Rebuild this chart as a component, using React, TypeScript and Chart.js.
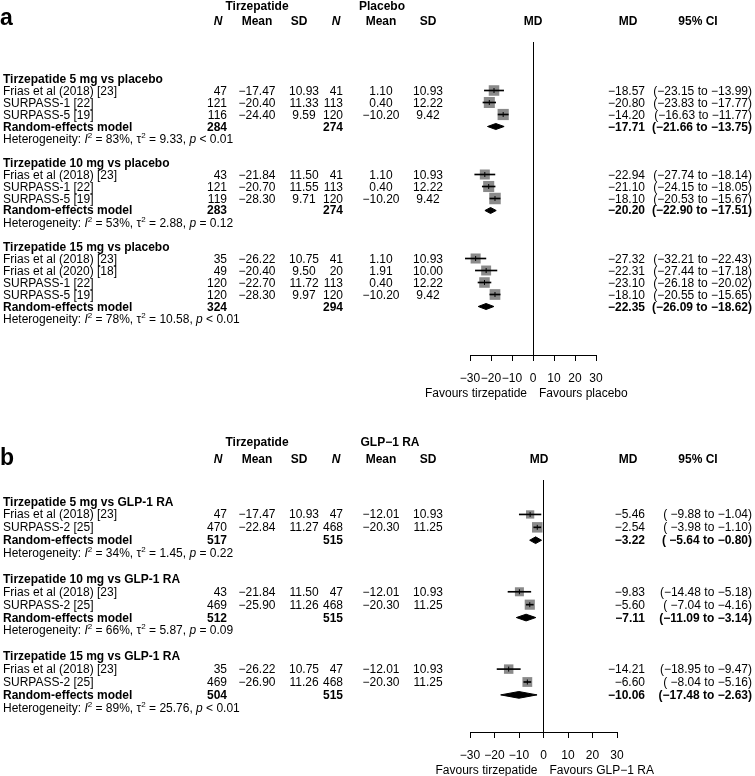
import React, { useEffect, useRef } from "react";
import { Chart, registerables } from "chart.js";

Chart.register(...registerables);

const FONT = '"Liberation Sans", Arial, Helvetica, sans-serif';
const MINUS = "\u2212";

// ---------------- Panel a: tirzepatide vs placebo ----------------
const aGroupTitles = [
  "Tirzepatide 5 mg vs placebo",
  "Tirzepatide 10 mg vs placebo",
  "Tirzepatide 15 mg vs placebo",
];
const aGroupSizes = [3, 3, 4];
const aStudyLabels = [
  "Frias et al (2018) [23]",
  "SURPASS-1 [22]",
  "SURPASS-5 [19]",
  "Frias et al (2018) [23]",
  "SURPASS-1 [22]",
  "SURPASS-5 [19]",
  "Frias et al (2018) [23]",
  "Frias et al (2020) [18]",
  "SURPASS-1 [22]",
  "SURPASS-5 [19]",
];
const aTirzN = [47, 121, 116, 43, 121, 119, 35, 49, 120, 120];
const aTirzMean = [-17.47, -20.4, -24.4, -21.84, -20.7, -28.3, -26.22, -20.4, -22.7, -28.3];
const aTirzSD = [10.93, 11.33, 9.59, 11.5, 11.55, 9.71, 10.75, 9.5, 11.72, 9.97];
const aCtrlN = [41, 113, 120, 41, 113, 120, 41, 20, 113, 120];
const aCtrlMean = [1.1, 0.4, -10.2, 1.1, 0.4, -10.2, 1.1, 1.91, 0.4, -10.2];
const aCtrlSD = [10.93, 12.22, 9.42, 10.93, 12.22, 9.42, 10.93, 10.0, 12.22, 9.42];
const aMD = [-18.57, -20.8, -14.2, -22.94, -21.1, -18.1, -27.32, -22.31, -23.1, -18.1];
const aLower = [-23.15, -23.83, -16.63, -27.74, -24.15, -20.53, -32.21, -27.44, -26.18, -20.55];
const aUpper = [-13.99, -17.77, -11.77, -18.14, -18.05, -15.67, -22.43, -17.18, -20.02, -15.65];
const aPoolTirzN = [284, 283, 324];
const aPoolCtrlN = [274, 274, 294];
const aPoolMD = [-17.71, -20.2, -22.35];
const aPoolLower = [-21.66, -22.9, -26.09];
const aPoolUpper = [-13.75, -17.51, -18.62];
const aHetI2 = [83, 53, 78];
const aHetTau2 = [9.33, 2.88, 10.58];
const aHetP = ["< 0.01", "= 0.12", "< 0.01"];
const aXTicks = [-30, -20, -10, 0, 10, 20, 30];

// ---------------- Panel b: tirzepatide vs GLP-1 RA ----------------
const bGroupTitles = [
  "Tirzepatide 5 mg vs GLP-1 RA",
  "Tirzepatide 10 mg vs GLP-1 RA",
  "Tirzepatide 15 mg vs GLP-1 RA",
];
const bGroupSizes = [2, 2, 2];
const bStudyLabels = [
  "Frias et al (2018) [23]",
  "SURPASS-2 [25]",
  "Frias et al (2018) [23]",
  "SURPASS-2 [25]",
  "Frias et al (2018) [23]",
  "SURPASS-2 [25]",
];
const bTirzN = [47, 470, 43, 469, 35, 469];
const bTirzMean = [-17.47, -22.84, -21.84, -25.9, -26.22, -26.9];
const bTirzSD = [10.93, 11.27, 11.5, 11.26, 10.75, 11.26];
const bCtrlN = [47, 468, 47, 468, 47, 468];
const bCtrlMean = [-12.01, -20.3, -12.01, -20.3, -12.01, -20.3];
const bCtrlSD = [10.93, 11.25, 10.93, 11.25, 10.93, 11.25];
const bMD = [-5.46, -2.54, -9.83, -5.6, -14.21, -6.6];
const bLower = [-9.88, -3.98, -14.48, -7.04, -18.95, -8.04];
const bUpper = [-1.04, -1.1, -5.18, -4.16, -9.47, -5.16];
const bPoolTirzN = [517, 512, 504];
const bPoolCtrlN = [515, 515, 515];
const bPoolMD = [-3.22, -7.11, -10.06];
const bPoolLower = [-5.64, -11.09, -17.48];
const bPoolUpper = [-0.8, -3.14, -2.63];
const bHetI2 = [34, 66, 89];
const bHetTau2 = [1.45, 5.87, 25.76];
const bHetP = ["= 0.22", "= 0.09", "< 0.01"];
const bXTicks = [-30, -20, -10, 0, 10, 20, 30];

type PanelData = {
  letter: string;
  ctrlName: string;
  favoursLeft: string;
  favoursRight: string;
  titles: string[];
  groupSizes: number[];
  labels: string[];
  tN: number[];
  tMean: number[];
  tSD: number[];
  cN: number[];
  cMean: number[];
  cSD: number[];
  md: number[];
  lower: number[];
  upper: number[];
  poolTN: number[];
  poolCN: number[];
  poolMD: number[];
  poolLower: number[];
  poolUpper: number[];
  i2: number[];
  tau2: number[];
  p: string[];
  ticks: number[];
};

const panelA: PanelData = {
  letter: "a",
  ctrlName: "Placebo",
  favoursLeft: "Favours tirzepatide",
  favoursRight: "Favours placebo",
  titles: aGroupTitles,
  groupSizes: aGroupSizes,
  labels: aStudyLabels,
  tN: aTirzN,
  tMean: aTirzMean,
  tSD: aTirzSD,
  cN: aCtrlN,
  cMean: aCtrlMean,
  cSD: aCtrlSD,
  md: aMD,
  lower: aLower,
  upper: aUpper,
  poolTN: aPoolTirzN,
  poolCN: aPoolCtrlN,
  poolMD: aPoolMD,
  poolLower: aPoolLower,
  poolUpper: aPoolUpper,
  i2: aHetI2,
  tau2: aHetTau2,
  p: aHetP,
  ticks: aXTicks,
};

const panelB: PanelData = {
  letter: "b",
  ctrlName: "GLP\u22121 RA",
  favoursLeft: "Favours tirzepatide",
  favoursRight: "Favours GLP\u22121 RA",
  titles: bGroupTitles,
  groupSizes: bGroupSizes,
  labels: bStudyLabels,
  tN: bTirzN,
  tMean: bTirzMean,
  tSD: bTirzSD,
  cN: bCtrlN,
  cMean: bCtrlMean,
  cSD: bCtrlSD,
  md: bMD,
  lower: bLower,
  upper: bUpper,
  poolTN: bPoolTirzN,
  poolCN: bPoolCtrlN,
  poolMD: bPoolMD,
  poolLower: bPoolLower,
  poolUpper: bPoolUpper,
  i2: bHetI2,
  tau2: bHetTau2,
  p: bHetP,
  ticks: bXTicks,
};

// ---------------- Layout (canvas-local pixels) ----------------
type Layout = {
  top: number;
  height: number;
  row0: number;
  step: number;
  plotTop: number;
  plotBottom: number;
  plotLeft: number;
  plotRight: number;
  letterBase: number;
  groupHeadBase: number;
  colHeadBase: number;
  favoursBase: number;
  ctrlHeadX: number;
  mdHeadX: number;
  squareMax: number;
  diamondHalf: number;
};

const layoutA: Layout = {
  top: 0,
  height: 410,
  row0: 48.5,
  step: 15,
  plotTop: 42,
  plotBottom: 355,
  plotLeft: 470,
  plotRight: 596,
  letterBase: 25,
  groupHeadBase: 10,
  colHeadBase: 24.5,
  favoursBase: 397,
  ctrlHeadX: 382,
  mdHeadX: 533,
  squareMax: 11.5,
  diamondHalf: 0.25,
};

const layoutB: Layout = {
  top: 410,
  height: 366,
  row0: 78.5,
  step: 14.5,
  plotTop: 70,
  plotBottom: 322,
  plotLeft: 470,
  plotRight: 617,
  letterBase: 55,
  groupHeadBase: 36,
  colHeadBase: 53,
  favoursBase: 364,
  ctrlHeadX: 390,
  mdHeadX: 539,
  squareMax: 10.5,
  diamondHalf: 0.26,
};

const COL = {
  label: 3,
  tN: 227,
  tNHead: 218,
  tMean: 257,
  tSD: 304,
  tSDHead: 299,
  cN: 343,
  cNHead: 336,
  cMean: 381,
  cSD: 428,
  md: 645,
  ci: 752,
  mdHead: 628,
  ciHead: 698,
};

const AXIS_H = 30;
const SIZE_EXP = 0.2;

function fmt(v: number, d = 2): string {
  const s = Math.abs(v).toFixed(d);
  return v < 0 ? MINUS + s : s;
}

function put(
  ctx: CanvasRenderingContext2D,
  s: string,
  x: number,
  y: number,
  align: CanvasTextAlign,
  style = "",
  size = 12
) {
  ctx.font = `${style}${size}px ${FONT}`;
  ctx.textAlign = align;
  ctx.textBaseline = "alphabetic";
  ctx.fillText(s, x, y);
}

function drawHet(
  ctx: CanvasRenderingContext2D,
  x: number,
  y: number,
  i2: number,
  tau2: number,
  p: string
) {
  let cx = x;
  const seg = (s: string, style = "", size = 12, dy = 0) => {
    ctx.font = `${style}${size}px ${FONT}`;
    ctx.textAlign = "left";
    ctx.textBaseline = "alphabetic";
    ctx.fillText(s, cx, y + dy);
    cx += ctx.measureText(s).width;
  };
  seg("Heterogeneity: ");
  seg("I", "italic ");
  seg("2", "", 8, -5);
  seg(` = ${i2}%, \u03C4`);
  seg("2", "", 8, -5);
  seg(` = ${tau2.toFixed(2)}, `);
  seg("p", "italic ");
  seg(` ${p}`);
}

function buildConfig(p: PanelData, L: Layout): any {
  const studyRows: number[] = [];
  const studyGroup: number[] = [];
  const titleRows: number[] = [];
  const poolRows: number[] = [];
  const hetRows: number[] = [];
  let r = 0;
  p.groupSizes.forEach((n, g) => {
    titleRows.push(r);
    for (let j = 0; j < n; j++) {
      studyRows.push(r + 1 + j);
      studyGroup.push(g);
    }
    poolRows.push(r + n + 1);
    hetRows.push(r + n + 2);
    r += n + 4;
  });

  // random-effects weights (inverse of within-study variance + tau^2)
  const w = p.md.map((_, i) => {
    const se = (p.upper[i] - p.lower[i]) / (2 * 1.959964);
    return 1 / (se * se + p.tau2[studyGroup[i]]);
  });
  const gsum = p.groupSizes.map((_, g) =>
    w.reduce((a, v, i) => (studyGroup[i] === g ? a + v : a), 0)
  );
  const pct = w.map((v, i) => v / gsum[studyGroup[i]]);
  const maxPct = Math.max(...pct);
  const radius = pct.map(
    (v) => (L.squareMax * Math.pow(v / maxPct, SIZE_EXP)) / (2 * Math.SQRT1_2)
  );

  const pts = p.md.map((m, i) => ({ x: m, y: studyRows[i] }));
  const ciData = p.lower.map((lo, i) => ({ x: [lo, p.upper[i]], y: studyRows[i] }));

  const diamonds = p.poolMD.map((m, g) => ({
    type: "line",
    label: "Random-effects " + g,
    data: [
      { x: p.poolLower[g], y: poolRows[g] },
      { x: m, y: poolRows[g] - L.diamondHalf },
      { x: p.poolUpper[g], y: poolRows[g] },
      { x: m, y: poolRows[g] + L.diamondHalf },
      { x: p.poolLower[g], y: poolRows[g] },
    ],
    borderColor: "#000",
    backgroundColor: "#000",
    borderWidth: 1,
    pointRadius: 0,
    tension: 0,
    fill: "shape",
    clip: false,
    order: 0,
  }));

  const yMin = (L.plotTop - L.row0) / L.step;
  const yMax = (L.plotBottom - L.row0) / L.step;

  const textPlugin = {
    id: "forestText",
    afterDraw(chart: any) {
      const ctx: CanvasRenderingContext2D = chart.ctx;
      const ys = chart.scales.y;
      const xs = chart.scales.x;
      const base = (k: number) => Math.round(ys.getPixelForValue(k) + 4);
      ctx.save();
      ctx.fillStyle = "#000";

      // panel letter
      put(ctx, p.letter, 0, L.letterBase, "left", "bold ", 23);

      // headers
      put(ctx, "Tirzepatide", COL.tMean, L.groupHeadBase, "center", "bold ");
      put(ctx, p.ctrlName, L.ctrlHeadX, L.groupHeadBase, "center", "bold ");
      put(ctx, "N", COL.tNHead, L.colHeadBase, "center", "italic bold ");
      put(ctx, "Mean", COL.tMean, L.colHeadBase, "center", "bold ");
      put(ctx, "SD", COL.tSDHead, L.colHeadBase, "center", "bold ");
      put(ctx, "N", COL.cNHead, L.colHeadBase, "center", "italic bold ");
      put(ctx, "Mean", COL.cMean, L.colHeadBase, "center", "bold ");
      put(ctx, "SD", COL.cSD, L.colHeadBase, "center", "bold ");
      put(ctx, "MD", L.mdHeadX, L.colHeadBase, "center", "bold ");
      put(ctx, "MD", COL.mdHead, L.colHeadBase, "center", "bold ");
      put(ctx, "95% CI", COL.ciHead, L.colHeadBase, "center", "bold ");

      const loW = Math.max(
        ...p.lower.map((v) => fmt(v).length),
        ...p.poolLower.map((v) => fmt(v).length)
      );
      const ciText = (lo: number, hi: number) =>
        `(${fmt(lo).padStart(loW, " ")} to ${fmt(hi)})`;

      p.titles.forEach((t, g) => {
        put(ctx, t, COL.label, base(titleRows[g]), "left", "bold ");
      });

      p.labels.forEach((lab, i) => {
        const y = base(studyRows[i]);
        put(ctx, lab, COL.label, y, "left");
        put(ctx, String(p.tN[i]), COL.tN, y, "right");
        put(ctx, fmt(p.tMean[i]), COL.tMean, y, "center");
        put(ctx, fmt(p.tSD[i]), COL.tSD, y, "center");
        put(ctx, String(p.cN[i]), COL.cN, y, "right");
        put(ctx, fmt(p.cMean[i]), COL.cMean, y, "center");
        put(ctx, fmt(p.cSD[i]), COL.cSD, y, "center");
        put(ctx, fmt(p.md[i]), COL.md, y, "right");
        put(ctx, ciText(p.lower[i], p.upper[i]), COL.ci, y, "right");
      });

      p.poolMD.forEach((m, g) => {
        const y = base(poolRows[g]);
        put(ctx, "Random-effects model", COL.label, y, "left", "bold ");
        put(ctx, String(p.poolTN[g]), COL.tN, y, "right", "bold ");
        put(ctx, String(p.poolCN[g]), COL.cN, y, "right", "bold ");
        put(ctx, fmt(m), COL.md, y, "right", "bold ");
        put(ctx, ciText(p.poolLower[g], p.poolUpper[g]), COL.ci, y, "right", "bold ");
        drawHet(ctx, COL.label, base(hetRows[g]), p.i2[g], p.tau2[g], p.p[g]);
      });

      const zx = xs.getPixelForValue(0);
      put(ctx, p.favoursLeft, zx - 6, L.favoursBase, "right");
      put(ctx, p.favoursRight, zx + 6, L.favoursBase, "left");
      ctx.restore();
    },
  };

  return {
    type: "scatter",
    data: {
      datasets: [
        {
          type: "scatter",
          label: "Weight",
          data: pts,
          pointStyle: "rect",
          pointRadius: radius,
          pointBackgroundColor: "#8a8a8a",
          pointBorderWidth: 0,
          pointBorderColor: "rgba(0,0,0,0)",
          clip: false,
          order: 3,
        },
        {
          type: "bar",
          label: "95% CI",
          indexAxis: "y",
          data: ciData,
          backgroundColor: "#000",
          borderWidth: 0,
          barThickness: 1,
          clip: false,
          order: 2,
        },
        {
          type: "scatter",
          label: "MD",
          data: pts,
          pointStyle: "line",
          pointRotation: 90,
          pointRadius: 2.5,
          pointBorderColor: "#000",
          pointBorderWidth: 1,
          clip: false,
          order: 1,
        },
        ...diamonds,
      ],
    },
    options: {
      responsive: false,
      animation: false,
      events: [],
      layout: {
        padding: {
          left: L.plotLeft,
          right: 755 - L.plotRight,
          top: L.plotTop,
          bottom: L.height - L.plotBottom - AXIS_H,
        },
      },
      plugins: {
        legend: { display: false },
        tooltip: { enabled: false },
        title: { display: false },
      },
      scales: {
        x: {
          type: "linear",
          position: "bottom",
          min: p.ticks[0],
          max: p.ticks[p.ticks.length - 1],
          afterFit: (s: any) => {
            s.height = AXIS_H;
          },
          afterBuildTicks: (s: any) => {
            s.ticks = p.ticks.map((v) => ({ value: v }));
          },
          ticks: {
            autoSkip: false,
            maxRotation: 0,
            minRotation: 0,
            padding: 10,
            color: "#000",
            font: { family: FONT, size: 12 },
            callback: (v: number) => (v < 0 ? MINUS + Math.abs(v) : String(v)),
          },
          grid: {
            drawOnChartArea: true,
            drawTicks: true,
            tickLength: 6,
            tickColor: "#000",
            tickWidth: 1,
            lineWidth: 1,
            color: (c: any) =>
              c.tick && c.tick.value === 0 ? "#000" : "rgba(0,0,0,0)",
          },
          border: { display: true, color: "#000", width: 1 },
        },
        y: {
          type: "linear",
          display: false,
          reverse: true,
          min: yMin,
          max: yMax,
        },
      },
    },
    plugins: [textPlugin],
  };
}

function ForestPanel({ panel, layout }: { panel: PanelData; layout: Layout }) {
  const ref = useRef<HTMLCanvasElement>(null);
  useEffect(() => {
    if (!ref.current) return;
    const chart = new Chart(ref.current, buildConfig(panel, layout));
    return () => chart.destroy();
  }, [panel, layout]);
  return (
    <canvas
      ref={ref}
      width={755}
      height={layout.height}
      style={{
        position: "absolute",
        left: 0,
        top: layout.top,
        width: 755,
        height: layout.height,
      }}
    />
  );
}

export default function App() {
  return (
    <div
      style={{
        position: "absolute",
        left: 0,
        top: 0,
        width: 755,
        height: 776,
        background: "#fff",
        overflow: "hidden",
      }}
    >
      <ForestPanel panel={panelA} layout={layoutA} />
      <ForestPanel panel={panelB} layout={layoutB} />
    </div>
  );
}
